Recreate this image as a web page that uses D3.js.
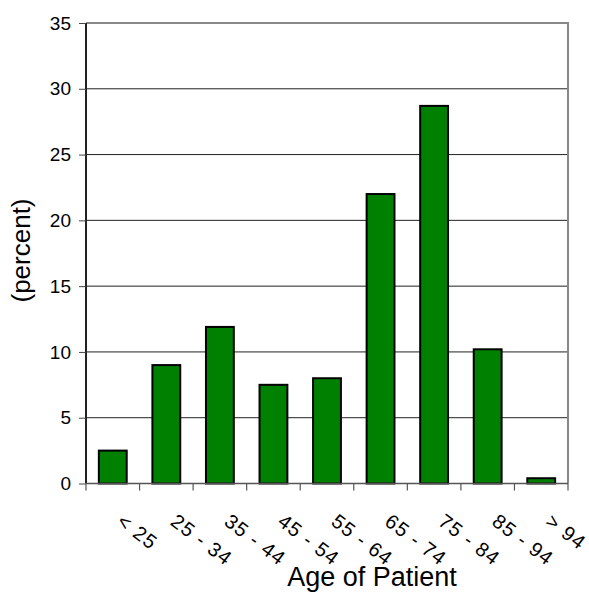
<!DOCTYPE html>
<html><head><meta charset="utf-8">
<script src="https://cdn.jsdelivr.net/npm/d3@7"></script>
<style>html,body{margin:0;padding:0;background:#fff;}svg{display:block;font-family:Arial,"Liberation Sans",sans-serif;}</style>
</head><body>
<script>
const categories = ["< 25","25 - 34","35 - 44","45 - 54","55 - 64","65 - 74","75 - 84","85 - 94","> 94"];
const percentValues = [2.5, 9.0, 11.9, 7.5, 8.0, 22.0, 28.7, 10.2, 0.4];
const yTicks = [0,5,10,15,20,25,30,35];
const yTitle = "(percent)";
const xTitle = "Age of Patient";

const W=589,H=593;
const L=86,R=568,T=23,B=483.5;
const svg=d3.select("body").append("svg").attr("width",W).attr("height",H);
const x=d3.scaleBand().domain(categories).range([L,R]).paddingInner(0.48).paddingOuter(0.24);
const y=d3.scaleLinear().domain([0,35]).range([B,T]);

// gridlines
svg.append("g").selectAll("line").data(yTicks.filter(t=>t>0&&t<35)).join("line")
 .attr("x1",L).attr("x2",R).attr("y1",d=>y(d)).attr("y2",d=>y(d))
 .attr("stroke","#222").attr("stroke-width",1);
// top & right border
svg.append("line").attr("x1",L).attr("x2",R+1).attr("y1",y(35)).attr("y2",y(35)).attr("stroke","#888").attr("stroke-width",2);
svg.append("line").attr("x1",R).attr("x2",R).attr("y1",y(35)).attr("y2",B).attr("stroke","#888").attr("stroke-width",2);

// bars
svg.append("g").selectAll("rect").data(categories).join("rect")
 .attr("x",d=>x(d)).attr("width",x.bandwidth())
 .attr("y",(d,i)=>y(percentValues[i])).attr("height",(d,i)=>B-y(percentValues[i]))
 .attr("fill","#008000").attr("stroke","#000").attr("stroke-width",2);

// y axis
const ya=svg.append("g").attr("transform",`translate(${L},0)`)
 .call(d3.axisLeft(y).tickValues(yTicks).tickSize(7).tickPadding(8).tickFormat(d3.format("d")));
ya.select(".domain").attr("stroke","#222").attr("stroke-width",2).attr("d",`M0,${T}V${B}`);
ya.selectAll(".tick line").attr("stroke","#444");
ya.selectAll("text").attr("font-size",19).attr("fill","#000").attr("font-family","Arial, 'Liberation Sans', sans-serif");

// x axis line and ticks at band boundaries
svg.append("line").attr("x1",L).attr("x2",R).attr("y1",B).attr("y2",B).attr("stroke","#555").attr("stroke-width",1.5);
const bounds=d3.range(categories.length+1).map(i=>L+i*(R-L)/categories.length);
svg.append("g").selectAll("line").data(bounds).join("line")
 .attr("x1",d=>d).attr("x2",d=>d).attr("y1",B).attr("y2",B+7).attr("stroke","#555").attr("stroke-width",1.2);

// x labels
svg.append("g").selectAll("text").data(categories).join("text")
 .attr("transform",d=>`translate(${x(d)+x.bandwidth()/2+3},${524}) rotate(37)`)
 .attr("font-size",20).attr("letter-spacing",1.2).attr("fill","#000").text(d=>d);

// titles
svg.append("text").attr("x",372).attr("y",586).attr("text-anchor","middle")
 .attr("font-size",27).attr("fill","#000").text(xTitle);
svg.append("text").attr("transform",`translate(30,250.5) rotate(-90)`).attr("text-anchor","middle")
 .attr("font-size",26).attr("fill","#000").text(yTitle);
</script>
</body></html>
